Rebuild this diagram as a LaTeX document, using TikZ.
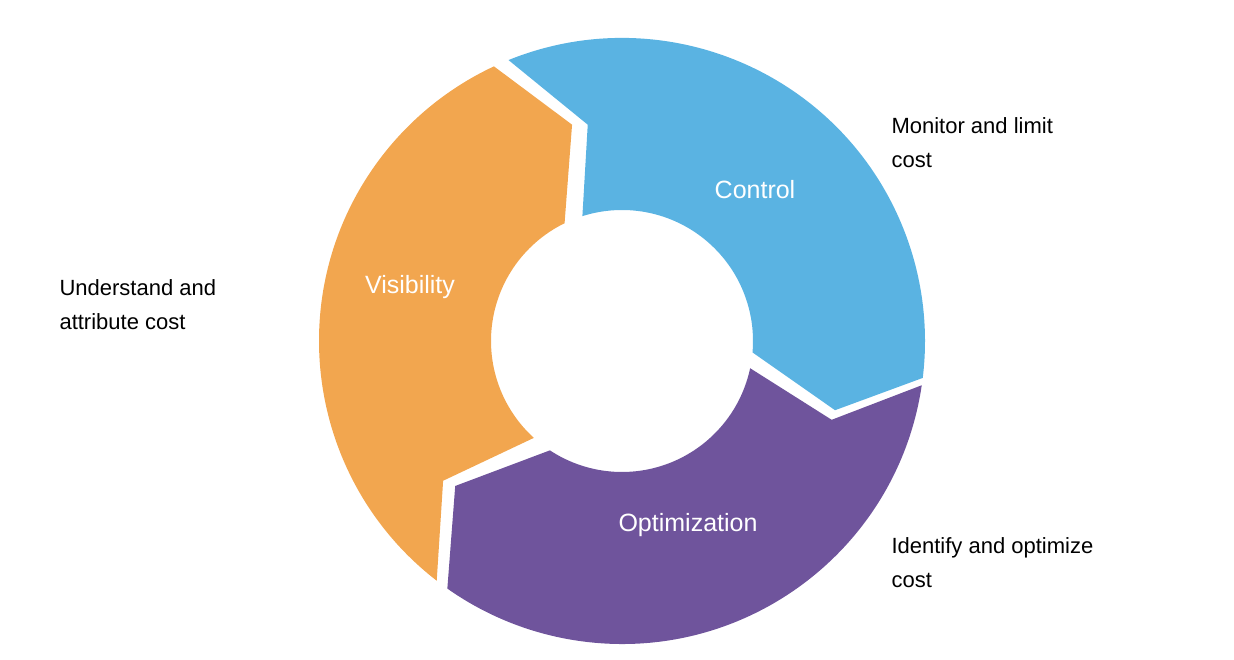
\documentclass[tikz,border=0pt]{standalone}
\usepackage{fontspec}
\setmainfont{Liberation Sans}
\definecolor{cblue}{HTML}{5AB3E2}
\definecolor{corange}{HTML}{F2A64F}
\definecolor{cpurple}{HTML}{6F549C}
\begin{document}
\begin{tikzpicture}[x=1pt,y=1pt,
  seglabel/.style={text=white,font=\fontsize{25}{30}\selectfont},
  sidelabel/.style={text=black,font=\fontsize{22}{34}\selectfont,align=left,anchor=west}]
\useasboundingbox (0,0) rectangle (1234,660);
\begin{scope}[shift={(622,319)}]
\fill[cblue] (112:303) arc[start angle=112,end angle=-7,radius=303] -- (-18:224) -- (-5:131)
  arc[start angle=-5,end angle=107.6,radius=131] -- (99:219) -- cycle;
\fill[cpurple] (-8.4:303) arc[start angle=-8.4,end angle=-125.2,radius=303] -- (-139:221) -- (-123.4:131)
  arc[start angle=-123.4,end angle=-12,radius=131] -- (-20.6:224) -- cycle;
\fill[corange] (232.3:303) arc[start angle=232.3,end angle=115,radius=303] -- (103:222) -- (116:131)
  arc[start angle=116,end angle=227.7,radius=131] -- (218:227) -- cycle;
\end{scope}
\node[seglabel] (ctl) at (755,470) {Control};
\node[seglabel] (vis) at (410,373) {Visibility};
\node[seglabel] (opt) at (688,135) {Optimization};
\node[sidelabel] (mon) at (888,517) {Monitor and limit\\cost};
\node[sidelabel] (und) at (56,355) {Understand and\\attribute cost};
\node[sidelabel] (idf) at (888,97) {Identify and optimize\\cost};
\end{tikzpicture}
\end{document}
